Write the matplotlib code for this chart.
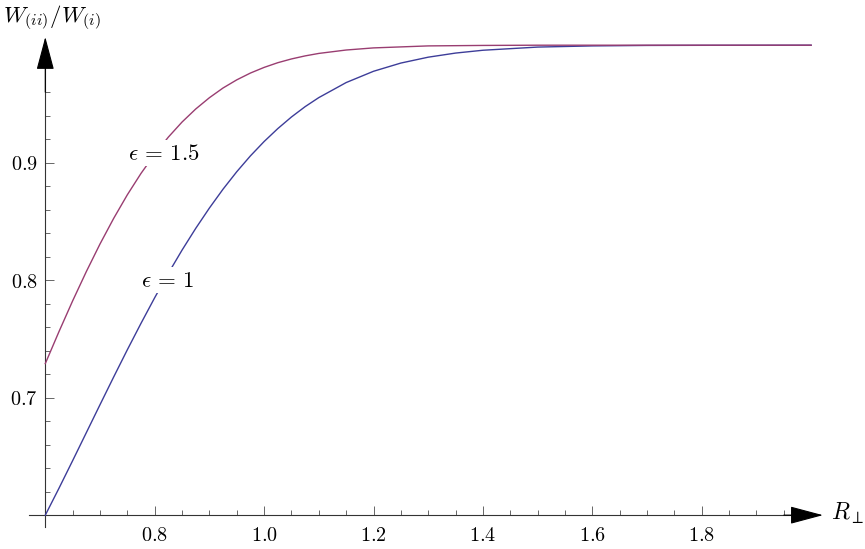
import matplotlib
matplotlib.use('Agg')
import matplotlib.pyplot as plt
from matplotlib.ticker import FixedLocator, FuncFormatter

plt.rcParams['mathtext.fontset'] = 'cm'

# ---- data ----
r_eps1 = [0.600, 0.625, 0.650, 0.675, 0.700, 0.725, 0.750, 0.775, 0.800, 0.825,
          0.850, 0.875, 0.900, 0.925, 0.950, 0.975, 1.000, 1.025, 1.050, 1.075,
          1.100, 1.150, 1.200, 1.250, 1.300, 1.350, 1.400, 1.500, 1.600, 1.700,
          1.800, 2.000]
w_eps1 = [0.6000, 0.6229, 0.6464, 0.6702, 0.6940, 0.7176, 0.7408, 0.7633, 0.7851, 0.8059,
          0.8256, 0.8441, 0.8614, 0.8775, 0.8923, 0.9058, 0.9180, 0.9290, 0.9389, 0.9477,
          0.9554, 0.9682, 0.9778, 0.9848, 0.9898, 0.9933, 0.9957, 0.9984, 0.9994, 0.9998,
          0.9999, 1.0000]

r_eps15 = [0.600, 0.625, 0.650, 0.675, 0.700, 0.725, 0.750, 0.775, 0.800, 0.825,
           0.850, 0.875, 0.900, 0.925, 0.950, 0.975, 1.000, 1.025, 1.050, 1.075,
           1.100, 1.150, 1.200, 1.300, 1.400, 1.500, 1.600, 2.000]
w_eps15 = [0.7290, 0.7562, 0.7824, 0.8073, 0.8308, 0.8526, 0.8727, 0.8909, 0.9072, 0.9218,
           0.9346, 0.9457, 0.9553, 0.9636, 0.9705, 0.9763, 0.9811, 0.9851, 0.9883, 0.9909,
           0.9930, 0.9959, 0.9977, 0.9994, 0.9998, 1.0000, 1.0000, 1.0000]

x_major = [0.8, 1.0, 1.2, 1.4, 1.6, 1.8]
x_minor = [0.65, 0.7, 0.75, 0.85, 0.9, 0.95, 1.05, 1.1, 1.15, 1.25, 1.3, 1.35,
           1.45, 1.5, 1.55, 1.65, 1.7, 1.75, 1.85, 1.9, 1.95]
y_major = [0.7, 0.8, 0.9]
y_minor = [0.62, 0.64, 0.66, 0.68, 0.72, 0.74, 0.76, 0.78, 0.82, 0.84, 0.86,
           0.88, 0.92, 0.94, 0.96]

label_eps1 = r'$\epsilon\,=\,1$'
label_eps15 = r'$\epsilon\,=\,1.5$'
xlabel = r'$R_{\perp}$'
ylabel = r'$W_{(ii)}/W_{(i)}$'

c_blue = '#3d3d99'
c_mag = '#993d71'
axis_col = '#333333'
tick_col = '#666666'

fig = plt.figure(figsize=(8.65, 5.49), dpi=100)
ax = fig.add_axes([0, 0, 1, 1])
ax.set_xlim(0.5172, 2.0985)
ax.set_ylim(0.5712, 1.03847)
ax.patch.set_visible(False)

ax.plot(r_eps1, w_eps1, color=c_blue, lw=1.0, zorder=3)
ax.plot(r_eps15, w_eps15, color=c_mag, lw=1.0, zorder=3)

# axes through the origin (0.6, 0.6)
for side in ('top', 'right'):
    ax.spines[side].set_visible(False)
ax.spines['bottom'].set_position(('data', 0.6))
ax.spines['left'].set_position(('data', 0.6))
ax.spines['bottom'].set_bounds(0.570, 1.99)
ax.spines['left'].set_bounds(0.590, 0.99)
for side in ('bottom', 'left'):
    ax.spines[side].set_color(axis_col)
    ax.spines[side].set_linewidth(0.8)

arrow_style = '-|>,head_length=1.05,head_width=0.28'
ax.annotate('', xy=(2.0216, 0.6), xytext=(1.95, 0.6),
            arrowprops=dict(arrowstyle=arrow_style, mutation_scale=20,
                            color='black', lw=0.8, shrinkA=0, shrinkB=0))
ax.annotate('', xy=(0.6, 1.007), xytext=(0.6, 0.96),
            arrowprops=dict(arrowstyle=arrow_style, mutation_scale=20,
                            color='black', lw=0.8, shrinkA=0, shrinkB=0))

fmt = FuncFormatter(lambda v, p: r'$%.1f$' % v)
ax.xaxis.set_major_locator(FixedLocator(x_major))
ax.xaxis.set_minor_locator(FixedLocator(x_minor))
ax.yaxis.set_major_locator(FixedLocator(y_major))
ax.yaxis.set_minor_locator(FixedLocator(y_minor))
ax.xaxis.set_major_formatter(fmt)
ax.yaxis.set_major_formatter(fmt)

ax.tick_params(axis='both', which='both', direction='in', colors=tick_col,
               labelcolor='black', width=0.7)
ax.tick_params(axis='both', which='major', length=6.3, labelsize=14.5)
ax.tick_params(axis='both', which='minor', length=3.8)
ax.tick_params(axis='x', which='major', pad=7.5)
ax.tick_params(axis='y', which='major', pad=5.5)

# curve labels
ax.text(0.817, 0.908, label_eps15, fontsize=16.5, ha='center', va='center',
        zorder=4, bbox=dict(fc='white', ec='none', pad=1.0))
ax.text(0.824, 0.800, label_eps1, fontsize=16.5, ha='center', va='center',
        zorder=4, bbox=dict(fc='white', ec='none', pad=1.0))

# axis labels
ax.annotate(ylabel, xy=(3, 549 - 22), xycoords='figure pixels',
            fontsize=16.5, ha='left', va='baseline')
ax.annotate(xlabel, xy=(831, 549 - 520), xycoords='figure pixels',
            fontsize=17, ha='left', va='baseline')

fig.savefig('out.png', dpi=100)
